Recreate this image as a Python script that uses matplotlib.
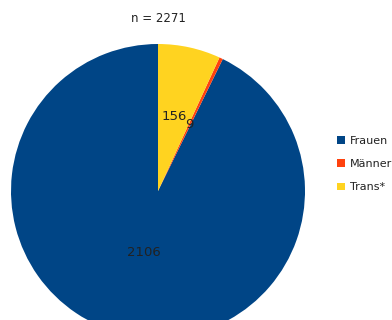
import matplotlib.pyplot as plt
import numpy as np

labels = ['Frauen', 'Männer', 'Trans*']
sizes = [2106, 9, 156]
colors = ['#004586', '#ff420e', '#ffd320']
total = sum(sizes)

fig = plt.figure(figsize=(3.92, 3.2), dpi=100)
ax = fig.add_axes([0, 0, 1, 1])

cx, cy, r = 158, 320 - 191, 147
wedges, texts = ax.pie(sizes, colors=colors, startangle=90, counterclock=True,
                       center=(cx, cy), radius=r, frame=True,
                       wedgeprops={'linewidth': 0})
ax.set_xlim(0, 392)
ax.set_ylim(0, 320)
ax.axis('off')

# value labels
dists = [0.43, 0.50, 0.52]
for w, v, d in zip(wedges, sizes, dists):
    ang = np.deg2rad((w.theta1 + w.theta2) / 2)
    x = cx + d * r * np.cos(ang)
    y = cy + d * r * np.sin(ang)
    ax.text(x, y, str(v), ha='center', va='center', fontsize=9.5, color='#222222')

ax.text(cx, 320 - 18, 'n = %d' % total, ha='center', va='center', fontsize=8.5, color='#222222')

leg = ax.legend(wedges, labels, loc='center left', bbox_to_anchor=(333 / 392, 156 / 320),
                frameon=False, fontsize=8, handlelength=0.7, handleheight=0.7,
                handletextpad=0.45, labelspacing=1.2, borderaxespad=0)
for t in leg.get_texts():
    t.set_color('#222222')

plt.savefig('out.png', dpi=100)
